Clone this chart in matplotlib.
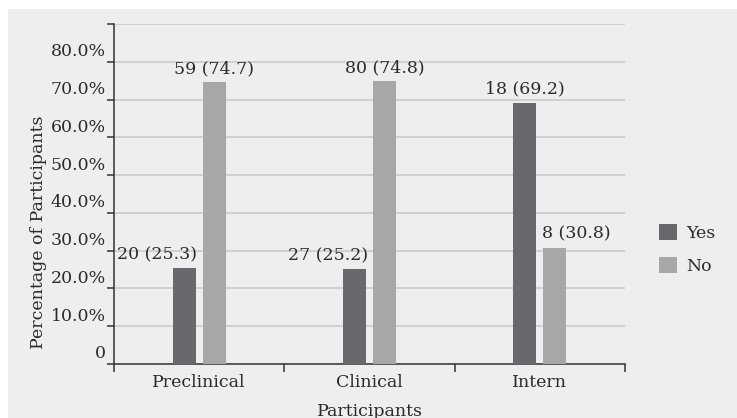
import matplotlib
matplotlib.use("Agg")
import matplotlib.pyplot as plt
import matplotlib.transforms as mtransforms
from matplotlib.patches import Rectangle
import numpy as np

# survey data: counts and percentages per group
groups = ["Preclinical", "Clinical", "Intern"]
yes_n = [20, 27, 18]
yes_pct = [25.3, 25.2, 69.2]
no_n = [59, 80, 8]
no_pct = [74.7, 74.8, 30.8]
ytick_vals = [0, 10, 20, 30, 40, 50, 60, 70, 80, 90]
ytick_text = ["0", "10.0%", "20.0%", "30.0%", "40.0%", "50.0%", "60.0%", "70.0%", "80.0%", ""]

# label alignment for each bar (yes row, no row)
yes_ha = ["right", "right", "center"]
no_ha = ["center", "center", "left"]

c_yes = "#69696d"
c_no = "#a7a7aa"
bg = "#eeeeee"
ink = "#2b2b2b"
fs = 12.5

plt.rcParams["font.family"] = ["DejaVu Serif"]
plt.rcParams["font.size"] = fs

fig = plt.figure(figsize=(7.37, 4.18), dpi=100)
fig.patch.set_facecolor("white")
fig.patches.append(Rectangle((8 / 737, 0), 1, 1 - 9 / 418, transform=fig.transFigure,
                             facecolor=bg, edgecolor="none", zorder=-10))

ax = fig.add_axes([114 / 737, 1 - 364 / 418, 511 / 737, 340 / 418])
ax.set_facecolor(bg)

x = np.arange(len(groups))
w = 0.135
off = 0.088
b_yes = ax.bar(x - off, yes_pct, w, color=c_yes, label="Yes", zorder=3)
b_no = ax.bar(x + off, no_pct, w, color=c_no, label="No", zorder=3)

for bars, ns, ps, has in [(b_yes, yes_n, yes_pct, yes_ha), (b_no, no_n, no_pct, no_ha)]:
    for r, n, p, ha in zip(bars, ns, ps, has):
        if ha == "right":
            xp = r.get_x() + r.get_width() + 0.01
        elif ha == "left":
            xp = r.get_x() - 0.01
        else:
            xp = r.get_x() + r.get_width() / 2
        ax.annotate(f"{n} ({p})", (xp, p), xytext=(0, 3.5), textcoords="offset points",
                    ha=ha, va="bottom", color=ink, fontsize=fs, zorder=4)

ax.set_xlim(-0.5, 2.5)
ax.set_ylim(0, 90)
ax.set_yticks(ytick_vals)
ax.set_yticklabels(ytick_text)
ax.yaxis.grid(True, color="#cbcbcb", linewidth=1.2, zorder=0)
ax.set_axisbelow(True)

# category boundaries as major ticks, names on minor ticks
ax.set_xticks([-0.5, 0.5, 1.5, 2.5])
ax.set_xticklabels([])
ax.set_xticks(x, minor=True)
ax.set_xticklabels(groups, minor=True)
ax.tick_params(axis="x", which="major", direction="out", length=6, width=1.1, color="#333333")
ax.tick_params(axis="x", which="minor", length=0, pad=7, labelcolor=ink, labelsize=fs)
ax.tick_params(axis="y", direction="out", length=5, width=1.1, color="#333333",
               pad=1, labelcolor=ink, labelsize=fs)

shift = mtransforms.ScaledTranslation(0, 12 / 100, fig.dpi_scale_trans)
for lab in ax.get_yticklabels():
    lab.set_transform(lab.get_transform() + shift)

for s in ["top", "right"]:
    ax.spines[s].set_visible(False)
for s in ["left", "bottom"]:
    ax.spines[s].set_color("#333333")
    ax.spines[s].set_linewidth(1.1)

fig.text(39 / 737, 1 - 232 / 418, "Percentage of Participants", rotation=90,
         ha="center", va="center", color=ink, fontsize=fs)
fig.text(369.5 / 737, 1 - 411 / 418, "Participants", ha="center", va="center",
         color=ink, fontsize=fs)

ax.legend(loc="upper left", bbox_to_anchor=(659 / 737, 1 - 224 / 418),
          bbox_transform=fig.transFigure, frameon=False, borderpad=0, borderaxespad=0,
          handlelength=1.04, handleheight=1.04, handletextpad=0.5, labelspacing=0.85,
          labelcolor=ink, fontsize=fs)

fig.savefig("out.png", dpi=100, facecolor=fig.get_facecolor())
